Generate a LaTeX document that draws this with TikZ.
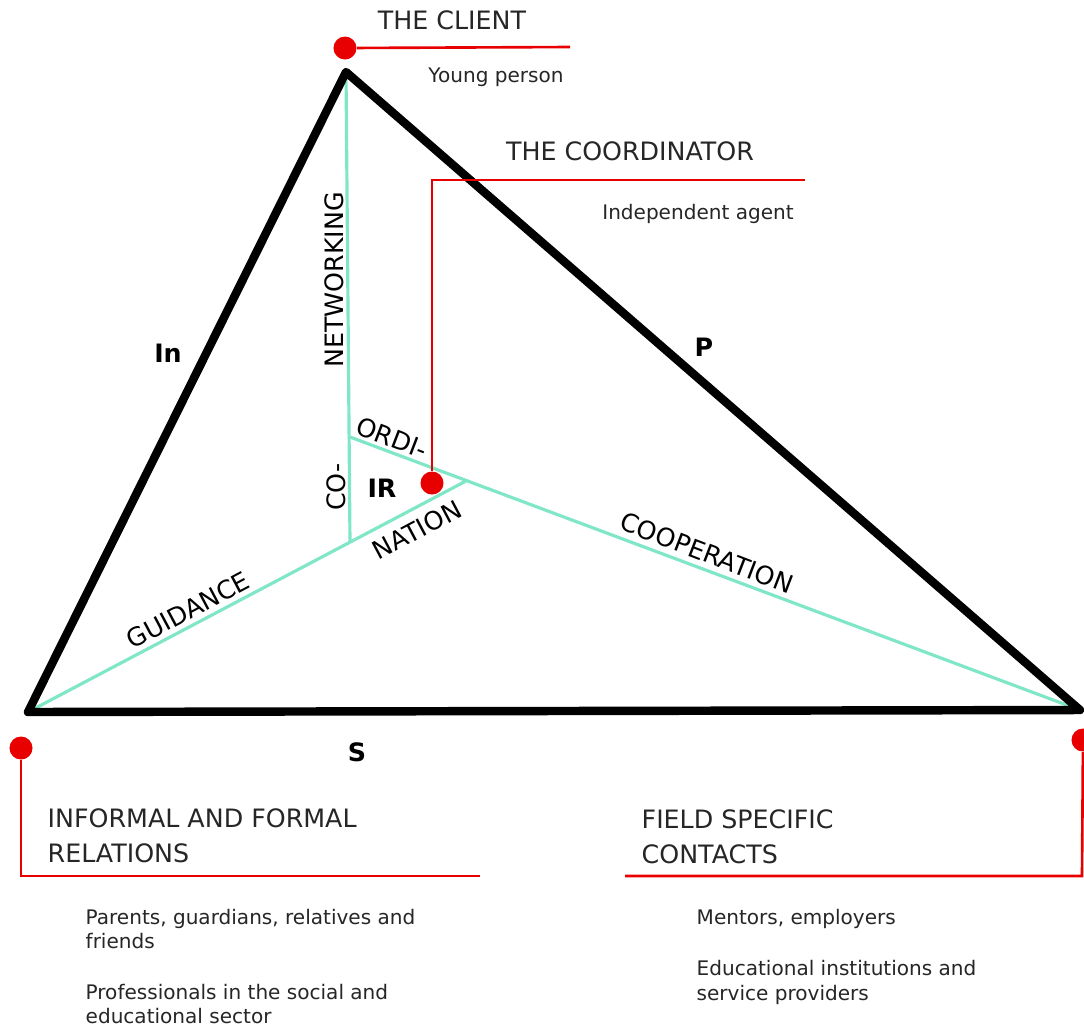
\documentclass[tikz,border=0pt]{standalone}
\usepackage{fontspec}
\setmainfont{DejaVu Sans}
\definecolor{tiffany}{RGB}{128,230,200}
\definecolor{signal}{RGB}{232,0,0}
\tikzset{
  edge/.style={line width=2.4pt, black, line join=round},
  tie/.style={line width=0.9pt, tiffany},
  wire/.style={line width=0.75pt, signal},
  dot/.style={circle, fill=signal, inner sep=0pt, minimum size=0.23cm},
  headtxt/.style={font=\fontsize{7.2}{10}\selectfont, text=black!85, inner sep=0pt, align=left},
  subtxt/.style={font=\fontsize{5.7}{7.1}\selectfont, text=black!85, inner sep=0pt, align=left},
  mark lbl/.style={font=\fontsize{7.2}{9}\selectfont\bfseries, inner sep=0pt},
  side lbl/.style={font=\fontsize{7.2}{9}\selectfont, inner sep=0pt}
}
\begin{document}
\begin{tikzpicture}[x=0.01cm, y=-0.01cm]
  \useasboundingbox (0,0) rectangle (1084,1026);

  % Vertices
  \coordinate (top) at (346,72);
  \coordinate (left) at (28,712);
  \coordinate (right) at (1080,710);
  % Inner triangle
  \coordinate (in-a) at (350,437);
  \coordinate (in-b) at (350,542);
  \coordinate (in-c) at (466,481);

  % Spokes
  \draw[tie] (top) -- (in-b);
  \draw[tie] (left) -- (in-c);
  \draw[tie] (in-a) -- (right);

  % Outer triangle
  \draw[edge] (top) -- (left) -- (right) -- cycle;

  % Spoke labels
  \node[side lbl, rotate=90] (networking) at (334,280) {NETWORKING};
  \node[side lbl, rotate=-21] (ordi) at (392,438) {ORDI-};
  \node[side lbl, rotate=90] (co) at (336,487) {CO-};
  \node[side lbl, rotate=28] (nation) at (417,530) {NATION};
  \node[side lbl, rotate=28] (guidance) at (188,610) {GUIDANCE};
  \node[side lbl, rotate=-21] (cooperation) at (707,553) {COOPERATION};

  % Side labels
  \node[mark lbl] (in) at (168,353) {In};
  \node[mark lbl] (p) at (704,347) {P};
  \node[mark lbl] (s) at (357,752) {S};
  \node[mark lbl] (ir) at (382,488) {IR};

  % The client
  \node[dot] (client) at (345,48) {};
  \coordinate (client-end) at (570,47);
  \draw[wire] (client) -- (client-end);
  \node[headtxt] (client-t) at (452,20) {THE CLIENT};
  \node[subtxt] (client-s) at (496,77) {Young person};

  % The coordinator
  \node[dot] (coord) at (432,483) {};
  \coordinate (coord-up) at (432,180);
  \coordinate (coord-end) at (805,180);
  \draw[wire] (coord) -- (coord-up) -- (coord-end);
  \node[headtxt] (coord-t) at (630,151) {THE COORDINATOR};
  \node[subtxt] (coord-s) at (698,214) {Independent agent};

  % Relations
  \node[dot] (rel) at (21,748) {};
  \coordinate (rel-down) at (21,876);
  \coordinate (rel-end) at (480,876);
  \draw[wire] (rel) -- (rel-down) -- (rel-end);
  \node[headtxt, anchor=west] (rel-t) at (47,836) {INFORMAL AND FORMAL\\RELATIONS};
  \node[subtxt, anchor=west] (rel-s1) at (85,929) {Parents, guardians, relatives and\\friends};
  \node[subtxt, anchor=west] (rel-s2) at (85,1004) {Professionals in the social and\\educational sector};

  % Contacts
  \node[dot] (cont) at (1083,740) {};
  \coordinate (cont-down) at (1082,876);
  \coordinate (cont-end) at (625,876);
  \draw[wire] (cont) -- (cont-down) -- (cont-end);
  \node[headtxt, anchor=west] (cont-t) at (641,837) {FIELD SPECIFIC\\CONTACTS};
  \node[subtxt, anchor=west] (cont-s1) at (696,919) {Mentors, employers};
  \node[subtxt, anchor=west] (cont-s2) at (696,982) {Educational institutions and\\service providers};

\end{tikzpicture}
\end{document}
